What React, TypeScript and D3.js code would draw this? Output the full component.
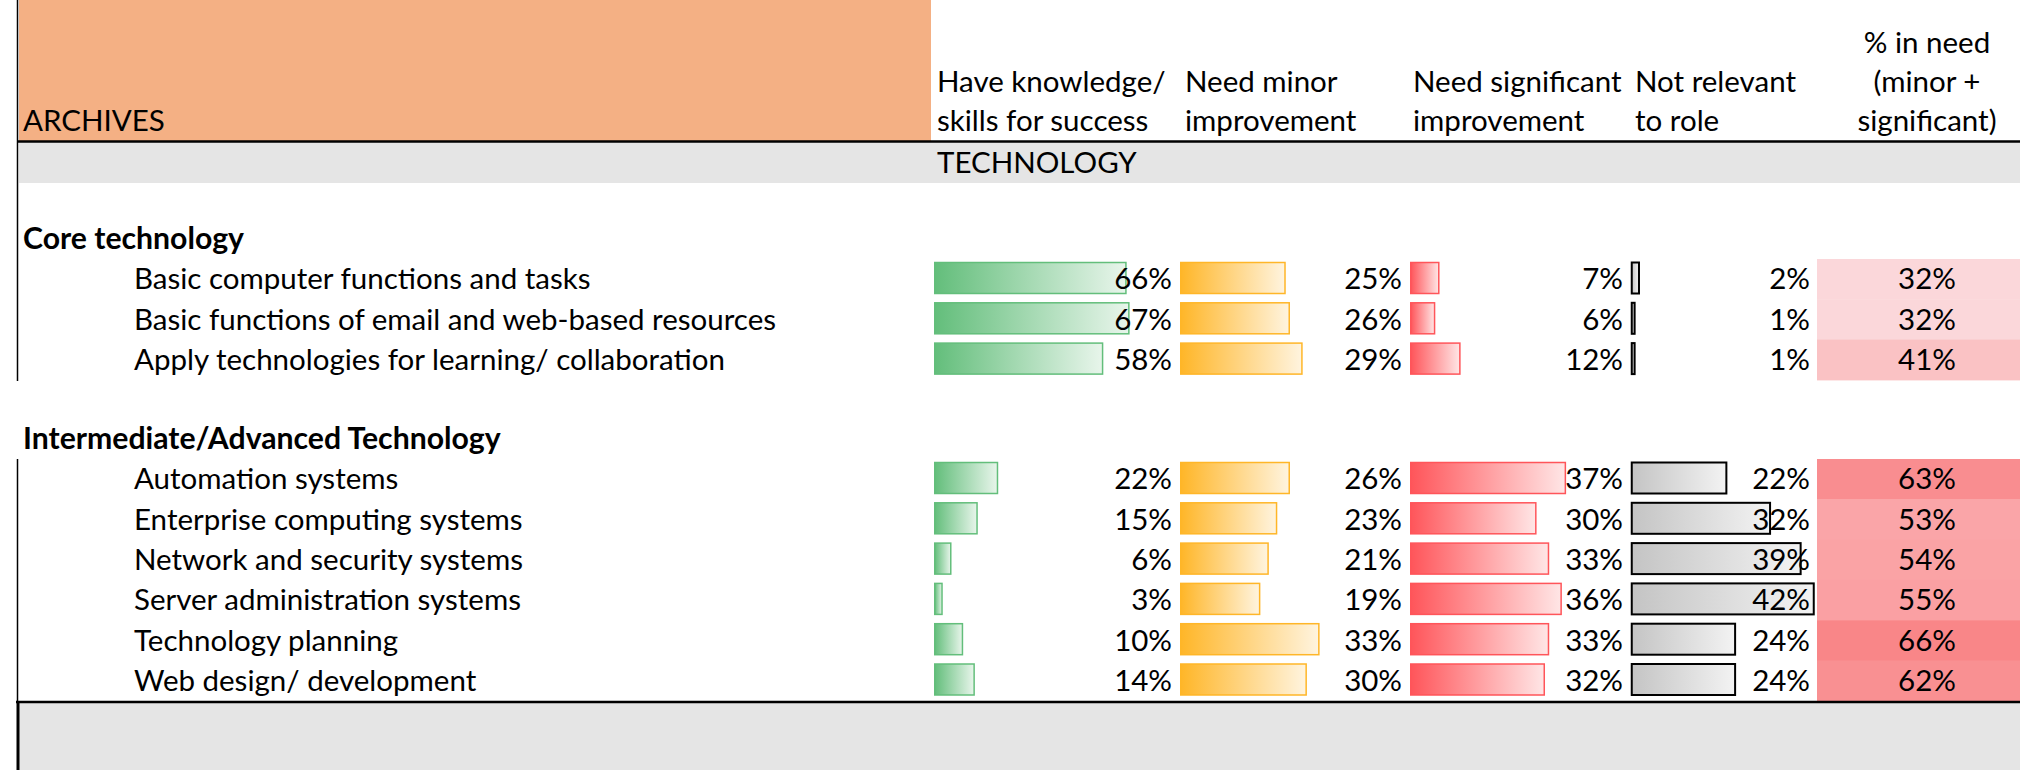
import React from "react";
import * as d3 from "d3";

// ---------- DATA ----------
const sheetTitle = "ARCHIVES";
const sectionTitle = "TECHNOLOGY";
const colHave = ["Have knowledge/", "skills for success"];
const colMinor = ["Need minor", "improvement"];
const colSignificant = ["Need significant", "improvement"];
const colNotRelevant = ["Not relevant", "to role"];
const colInNeed = ["% in need", "(minor +", "significant)"];

const coreTitle = "Core technology";
const coreItems = [
  "Basic computer functions and tasks",
  "Basic functions of email and web-based resources",
  "Apply technologies for learning/ collaboration",
];
const coreHave = [66, 67, 58];
const coreMinor = [25, 26, 29];
const coreSignificant = [7, 6, 12];
const coreNotRelevant = [2, 1, 1];
const coreInNeed = [32, 32, 41];

const advTitle = "Intermediate/Advanced Technology";
const advItems = [
  "Automation systems",
  "Enterprise computing systems",
  "Network and security systems",
  "Server administration systems",
  "Technology planning",
  "Web design/ development",
];
const advHave = [22, 15, 6, 3, 10, 14];
const advMinor = [26, 23, 21, 19, 33, 30];
const advSignificant = [37, 30, 33, 36, 33, 32];
const advNotRelevant = [22, 32, 39, 42, 24, 24];
const advInNeed = [63, 53, 54, 55, 66, 62];

// ---------- LAYOUT / STYLE ----------
const W = 2020;
const H = 770;
const FONT = "Lato, 'Noto Sans', sans-serif";
const FS = 29.5;
const FS_BOLD = 30.2;
const ROW = 40.3;

const barCols = [
  { key: "have", x0: 934, maxLen: 195.6, textEnd: 1172, color: "#63BE7B", border: "#63BE7B", end: null as string | null },
  { key: "minor", x0: 1180, maxLen: 139.6, textEnd: 1402, color: "#FFB628", border: "#FFB628", end: null },
  { key: "sig", x0: 1410, maxLen: 156.1, textEnd: 1623, color: "#FF555A", border: "#FF555A", end: null },
  { key: "nr", x0: 1631, maxLen: 183.5, textEnd: 1810, color: "#C4C4C4", border: "#000000", end: "#F3F3F3" },
];

const pinkX0 = 1817;
const pinkCenter = 1927;

const pct = (v: number) => `${v}%`;

export default function App() {
  const colData = [
    [...coreHave, ...advHave],
    [...coreMinor, ...advMinor],
    [...coreSignificant, ...advSignificant],
    [...coreNotRelevant, ...advNotRelevant],
  ];
  const scales = barCols.map((c, i) =>
    d3.scaleLinear().domain([0, d3.max(colData[i]) as number]).range([0, c.maxLen])
  );
  const needColor = d3
    .scaleLinear<string>()
    .domain([16.5, 78.3])
    .range(["#FCFCFF", "#F8696B"])
    .interpolate(d3.interpolateRgb)
    .clamp(true);

  const sections = [
    {
      title: coreTitle,
      headTop: 218.7,
      itemsTop: 259,
      items: coreItems,
      vals: [coreHave, coreMinor, coreSignificant, coreNotRelevant],
      need: coreInNeed,
    },
    {
      title: advTitle,
      headTop: 418.8,
      itemsTop: 459,
      items: advItems,
      vals: [advHave, advMinor, advSignificant, advNotRelevant],
      need: advInNeed,
    },
  ];

  const textStyle = { fontFamily: FONT, fontSize: FS, fill: "#000" } as React.CSSProperties;

  return (
    <svg
      width={W}
      height={H}
      style={{ position: "absolute", left: 0, top: 0, background: "#fff" }}
    >
      <defs>
        {barCols.map((c) => (
          <linearGradient key={c.key} id={`g-${c.key}`} x1="0" x2="1" y1="0" y2="0">
            <stop offset="0%" stopColor={c.color} />
            <stop
              offset="100%"
              stopColor={c.end ?? d3.interpolateRgb(c.color, "#ffffff")(0.85)}
            />
          </linearGradient>
        ))}
      </defs>

      {/* header */}
      <rect x={19} y={0} width={912} height={141} fill="#F4B084" />
      <text x={23} y={131} style={textStyle}>{sheetTitle}</text>
      {[
        { x: 937, lines: colHave },
        { x: 1185, lines: colMinor },
        { x: 1413, lines: colSignificant },
        { x: 1635, lines: colNotRelevant },
      ].map((h, i) => (
        <g key={i}>
          {h.lines.map((l, j) => (
            <text key={j} x={h.x} y={92 + j * 39} style={textStyle}>{l}</text>
          ))}
        </g>
      ))}
      {colInNeed.map((l, j) => (
        <text key={j} x={pinkCenter} y={53 + j * 39} textAnchor="middle" style={textStyle}>{l}</text>
      ))}

      {/* section band */}
      <rect x={19} y={142} width={W - 19} height={41} fill="#E5E5E5" />
      <line x1={17} x2={W} y1={141.5} y2={141.5} stroke="#000" strokeWidth={2.5} />
      <text x={937} y={173} style={textStyle}>{sectionTitle}</text>

      {/* left borders */}
      <line x1={17.5} x2={17.5} y1={0} y2={381} stroke="#000" strokeWidth={1.5} />
      <line x1={17.5} x2={17.5} y1={459} y2={702} stroke="#000" strokeWidth={1.5} />

      {sections.map((s, si) => {
        const yRow = d3.scaleLinear().domain([0, 1]).range([s.itemsTop, s.itemsTop + ROW]);
        return (
          <g key={si}>
            <text
              x={23}
              y={s.headTop + ROW - 10}
              style={{ ...textStyle, fontSize: FS_BOLD, fontWeight: 700 }}
            >
              {s.title}
            </text>
            {s.items.map((label, ri) => {
              const top = yRow(ri);
              const bottom = yRow(ri + 1);
              return (
                <g key={ri}>
                  <rect
                    x={pinkX0}
                    y={top}
                    width={W - pinkX0}
                    height={bottom - top + 0.5}
                    fill={needColor(s.need[ri])}
                  />
                  <text x={134} y={bottom - 10} style={textStyle}>{label}</text>
                  {barCols.map((c, ci) => {
                    const v = s.vals[ci][ri];
                    const w = scales[ci](v);
                    return (
                      <g key={ci}>
                        <rect
                          x={c.x0 + 0.75}
                          y={top + 3.5}
                          width={Math.max(w - 1.5, 1)}
                          height={31}
                          fill={`url(#g-${c.key})`}
                          stroke={c.border}
                          strokeWidth={c.key === "nr" ? 2 : 1.5}
                        />
                        <text x={c.textEnd} y={bottom - 10} textAnchor="end" style={textStyle}>
                          {pct(v)}
                        </text>
                      </g>
                    );
                  })}
                  <text x={pinkCenter} y={bottom - 10} textAnchor="middle" style={textStyle}>
                    {pct(s.need[ri])}
                  </text>
                </g>
              );
            })}
          </g>
        );
      })}

      {/* bottom band */}
      <rect x={17} y={702} width={W - 17} height={H - 702} fill="#E5E5E5" />
      <line x1={16} x2={W} y1={702} y2={702} stroke="#000" strokeWidth={2.5} />
      <line x1={18} x2={18} y1={702} y2={H} stroke="#000" strokeWidth={3} />
    </svg>
  );
}
